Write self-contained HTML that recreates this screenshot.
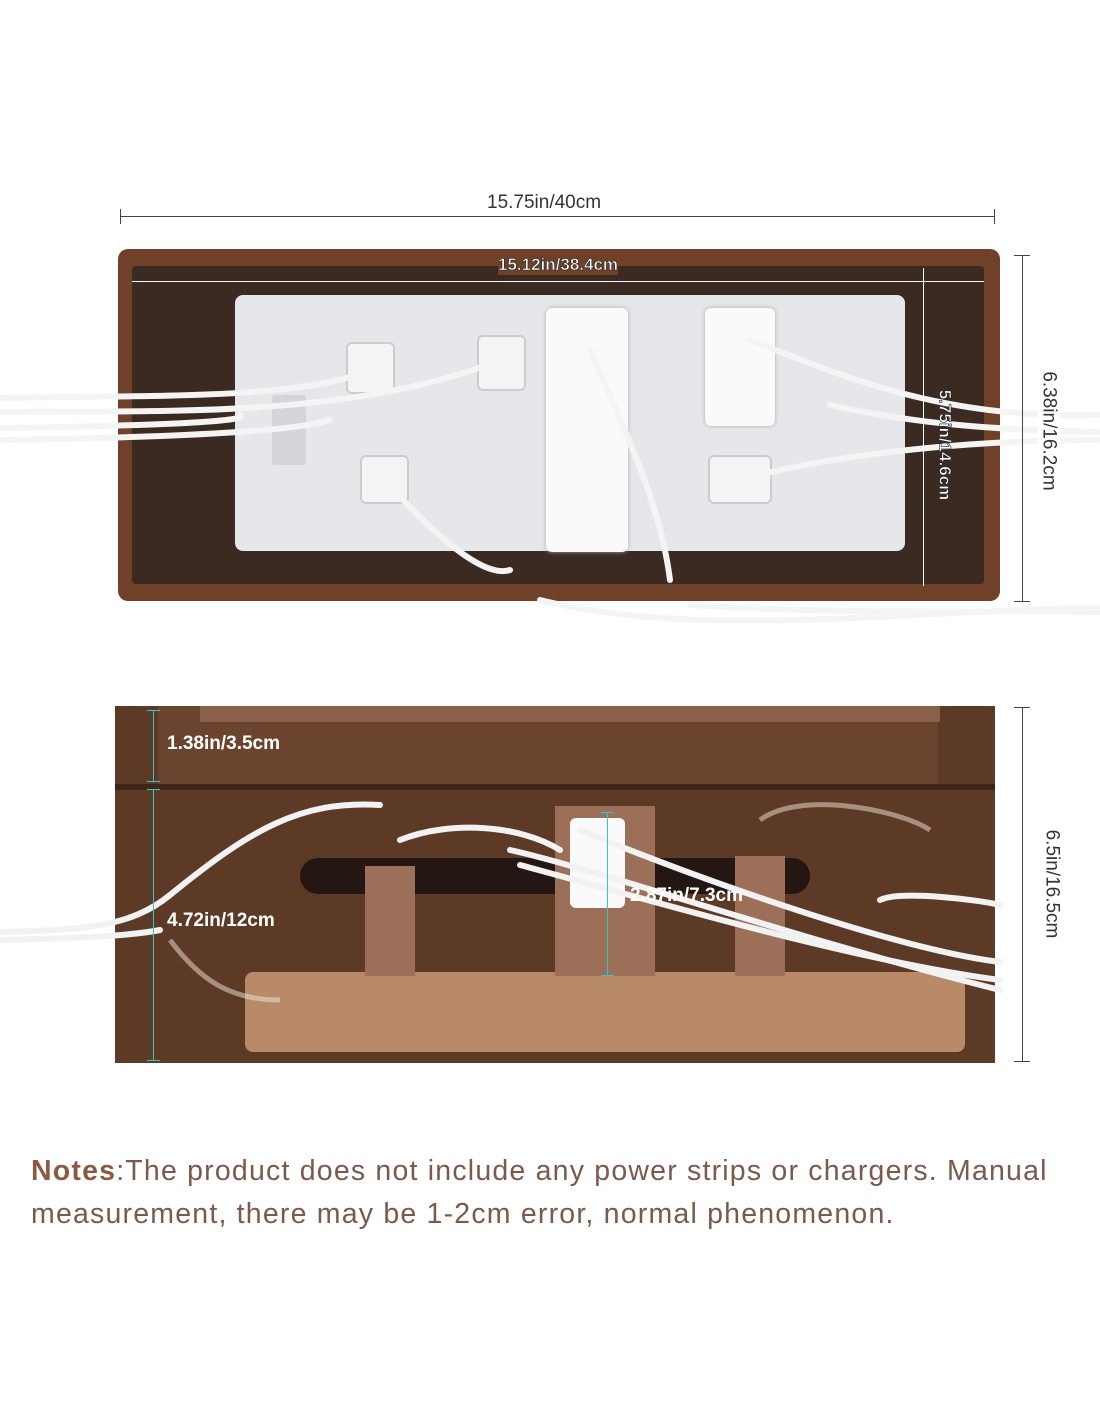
<!DOCTYPE html>
<html><head><meta charset="utf-8"><style>
body{margin:0;width:1100px;height:1422px;background:#fff;position:relative;overflow:hidden;font-family:"Liberation Sans",sans-serif}
.a{position:absolute}
.lbl{font-size:19px;color:#333}
</style></head><body>
<div class="a" style="left:120px;top:216px;width:875px;height:1px;background:#444"></div>
<div class="a" style="left:120px;top:209px;width:1px;height:15px;background:#444"></div>
<div class="a" style="left:994px;top:209px;width:1px;height:15px;background:#444"></div>
<div class="a lbl" style="left:487px;top:192px">15.75in/40cm</div>

<div class="a" style="left:118px;top:249px;width:882px;height:352px;background:#6e4128;border-radius:10px"></div>
<div class="a" style="left:132px;top:266px;width:852px;height:318px;background:#3b2a22;border-radius:4px"></div>
<div class="a" style="left:235px;top:295px;width:670px;height:256px;background:#e6e7ea;border-radius:8px"></div>
<div class="a" style="left:546px;top:308px;width:82px;height:244px;background:#fafafa;border-radius:6px;box-shadow:0 0 4px #aaa"></div>
<div class="a" style="left:705px;top:308px;width:70px;height:118px;background:#fafafa;border-radius:6px;box-shadow:0 0 4px #aaa"></div>
<div class="a" style="left:346px;top:342px;width:45px;height:48px;background:#f4f4f4;border:2px solid #ccc;border-radius:6px"></div>
<div class="a" style="left:477px;top:335px;width:45px;height:52px;background:#f4f4f4;border:2px solid #ccc;border-radius:6px"></div>
<div class="a" style="left:360px;top:455px;width:45px;height:45px;background:#f4f4f4;border:2px solid #ccc;border-radius:6px"></div>
<div class="a" style="left:708px;top:455px;width:60px;height:45px;background:#f4f4f4;border:2px solid #ccc;border-radius:6px"></div>
<div class="a" style="left:272px;top:395px;width:34px;height:70px;background:#d4d5d8;border-radius:3px"></div>
<svg class="a" style="left:0;top:0" width="1100" height="700">
<g fill="none" stroke="#f4f4f4" stroke-width="6" stroke-linecap="round">
<path d="M0 398 C150 395 300 400 370 370"/><path d="M0 412 C150 410 350 420 500 360"/>
<path d="M0 428 C200 425 250 420 240 415"/><path d="M0 440 C200 437 300 430 330 420"/>
<path d="M590 350 C620 420 660 500 670 580"/><path d="M385 480 C420 520 480 580 510 570"/>
<path d="M750 340 C850 380 950 420 1100 415"/><path d="M830 405 C920 425 1000 430 1100 432"/>
<path d="M740 480 C850 450 990 440 1100 440"/><path d="M540 600 C700 640 900 610 1100 608"/>
<path d="M690 605 C850 615 1000 610 1100 612"/>
</g></svg>
<div class="a" style="left:132px;top:281px;width:852px;height:1px;background:#fff"></div>
<div class="a" style="left:498px;top:255px;font-size:17px;font-weight:bold;color:#fff;-webkit-text-stroke:0.6px #222;background:#6e4128">15.12in/38.4cm</div>
<div class="a" style="left:923px;top:268px;width:1px;height:318px;background:#fff"></div>
<div class="a" style="left:889px;top:435px;font-size:17px;font-weight:bold;color:#fff;-webkit-text-stroke:0.6px #222;transform:rotate(90deg);white-space:nowrap">5.75in/14.6cm</div>
<div class="a" style="left:1022px;top:255px;width:1px;height:347px;background:#444"></div>
<div class="a" style="left:1014px;top:255px;width:16px;height:1px;background:#444"></div>
<div class="a" style="left:1014px;top:601px;width:16px;height:1px;background:#444"></div>
<div class="a lbl" style="left:985px;top:420px;transform:rotate(90deg);white-space:nowrap;background:#fff;padding:0 4px">6.38in/16.2cm</div>

<div class="a" style="left:115px;top:706px;width:880px;height:357px;background:#5d3a25"></div>
<div class="a" style="left:158px;top:706px;width:780px;height:78px;background:#6b4430"></div>
<div class="a" style="left:200px;top:706px;width:740px;height:16px;background:#8a6048"></div>
<div class="a" style="left:115px;top:784px;width:880px;height:6px;background:#3e2517"></div>
<div class="a" style="left:300px;top:858px;width:510px;height:36px;background:#241612;border-radius:18px"></div>
<div class="a" style="left:245px;top:972px;width:720px;height:80px;background:#b88a68;border-radius:8px"></div>
<div class="a" style="left:365px;top:866px;width:50px;height:110px;background:#9c7058"></div>
<div class="a" style="left:555px;top:806px;width:100px;height:170px;background:#9c7058"></div>
<div class="a" style="left:735px;top:856px;width:50px;height:120px;background:#9c7058"></div>
<div class="a" style="left:570px;top:818px;width:55px;height:90px;background:#fafafa;border-radius:6px"></div>
<svg class="a" style="left:0;top:700px" width="1100" height="380">
<g fill="none" stroke="#f2f2f2" stroke-width="6" stroke-linecap="round">
<path d="M0 232 C80 230 130 228 170 195 C250 130 300 100 380 105"/>
<path d="M0 240 C80 238 130 236 160 230"/>
<path d="M510 150 C600 170 800 240 1000 290"/><path d="M520 165 C650 200 850 260 1000 280"/>
<path d="M580 130 C700 180 900 250 1000 262"/><path d="M880 200 C900 190 980 200 1000 205"/>
<path d="M400 140 C450 120 520 125 560 150"/>
</g>
<g fill="none" stroke="rgba(240,230,220,0.5)" stroke-width="5">
<path d="M170 240 C200 280 230 300 280 300"/><path d="M760 120 C800 90 900 110 930 130"/>
</g></svg>
<div class="a" style="left:153px;top:710px;width:1px;height:72px;background:#35c5d0"></div>
<div class="a" style="left:147px;top:710px;width:13px;height:1px;background:#35c5d0"></div>
<div class="a" style="left:147px;top:781px;width:13px;height:1px;background:#35c5d0"></div>
<div class="a" style="left:153px;top:789px;width:1px;height:272px;background:#35c5d0"></div>
<div class="a" style="left:147px;top:789px;width:13px;height:1px;background:#35c5d0"></div>
<div class="a" style="left:147px;top:1060px;width:13px;height:1px;background:#35c5d0"></div>
<div class="a" style="left:607px;top:812px;width:1px;height:164px;background:#35c5d0"></div>
<div class="a" style="left:601px;top:812px;width:13px;height:1px;background:#35c5d0"></div>
<div class="a" style="left:601px;top:975px;width:13px;height:1px;background:#35c5d0"></div>
<div class="a" style="left:167px;top:733px;font-size:19px;font-weight:bold;color:#fff">1.38in/3.5cm</div>
<div class="a" style="left:167px;top:910px;font-size:19px;font-weight:bold;color:#fff">4.72in/12cm</div>
<div class="a" style="left:630px;top:885px;font-size:19px;font-weight:bold;color:#fff">2.87in/7.3cm</div>
<div class="a" style="left:1022px;top:707px;width:1px;height:355px;background:#444"></div>
<div class="a" style="left:1014px;top:707px;width:16px;height:1px;background:#444"></div>
<div class="a" style="left:1014px;top:1061px;width:16px;height:1px;background:#444"></div>
<div class="a lbl" style="left:993px;top:873px;transform:rotate(90deg);white-space:nowrap;background:#fff;padding:0 4px">6.5in/16.5cm</div>

<div class="a" style="left:31px;top:1150px;width:1069px;font-size:28.5px;line-height:43px;color:#7a5a4a;letter-spacing:1.2px;white-space:nowrap"><b style="color:#8a5a42">Notes</b>:The product does not include any power strips or chargers. Manual<br>measurement, there may be 1-2cm error, normal phenomenon.</div>
</body></html>
